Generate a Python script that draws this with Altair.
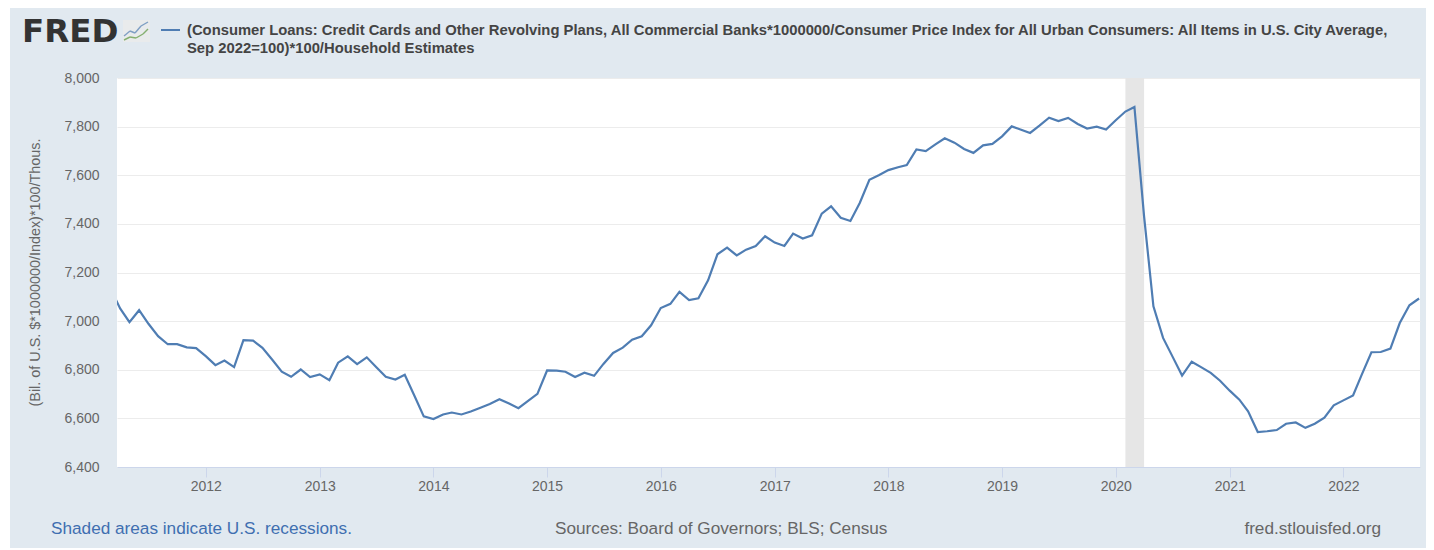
import altair as alt
import pandas as pd

start_month = "2011-03-01"
values = [
    7134, 7052, 6996, 7045, 6989, 6938, 6905, 6905, 6892, 6889,
    6856, 6819, 6838, 6811, 6922, 6920, 6890, 6842, 6792, 6771, 6801, 6770,
    6781, 6757, 6829, 6855, 6823, 6851, 6811, 6771, 6760, 6779, 6693, 6608,
    6597, 6616, 6624, 6616, 6628, 6644, 6659, 6679, 6661, 6642, 6672, 6701,
    6797, 6796, 6792, 6770, 6788, 6775, 6824, 6869, 6891, 6924, 6938, 6983,
    7054, 7071, 7120, 7087, 7094, 7168, 7275, 7302, 7270, 7294, 7309, 7349,
    7323, 7309, 7360, 7340, 7353, 7442, 7472, 7425, 7412, 7486, 7581, 7600,
    7621, 7633, 7642, 7706, 7699, 7727, 7752, 7734, 7708, 7692, 7723, 7729,
    7760, 7801, 7788, 7774, 7804, 7837, 7823, 7836, 7811, 7792, 7800, 7788,
    7826, 7862, 7881, 7431, 7061, 6931, 6855, 6776, 6833, 6811, 6787, 6755,
    6714, 6677, 6629, 6544, 6547, 6552, 6578, 6583, 6561, 6578, 6603, 6654,
    6674, 6694, 6780, 6872, 6873, 6887, 6992, 7065, 7093,
]
recession_start = ["2020-02-01"]
recession_end = ["2020-04-01"]
x_domain = ["2011-03-22", "2022-09-04"]
y_domain = [6400, 8000]
y_ticks = [6400, 6600, 6800, 7000, 7200, 7400, 7600, 7800, 8000]
title_lines = [
    "(Consumer Loans: Credit Cards and Other Revolving Plans, All Commercial Banks*1000000/Consumer Price Index for All Urban Consumers: All Items in U.S. City Average,",
    "Sep 2022=100)*100/Household Estimates",
]
y_title = "(Bil. of U.S. $*1000000/Index)*100/Thous."
footer_left = "Shaded areas indicate U.S. recessions."
footer_mid = "Sources: Board of Governors; BLS; Census"
footer_right = "fred.stlouisfed.org"

FONT = "Liberation Sans"
df = pd.DataFrame({"date": pd.date_range(start_month, periods=len(values), freq="MS"), "value": values})
rec = pd.DataFrame({"s": recession_start, "e": recession_end})

xs = alt.Scale(domain=x_domain)
ys = alt.Scale(domain=y_domain)
one = pd.DataFrame({"v": [0]})


def box(xa, ya, xb, yb, color):
    return alt.Chart(one).mark_rect(color=color).encode(
        x=alt.value(xa), x2=alt.value(xb), y=alt.value(ya), y2=alt.value(yb)
    )


band = alt.Chart(rec).mark_rect(color="#e6e6e6").encode(
    x=alt.X("s:T", scale=xs, title=None,
            axis=alt.Axis(format="%Y", tickCount=alt.TickCount(interval="year", step=1),
                          grid=False, tickSize=10, tickColor="#ccd6eb", domainColor="#ccd6eb",
                          labelColor="#666666", labelFontSize=14, labelFont=FONT, labelPadding=2,
                          labelFlush=False, labelOverlap=False)),
    x2="e:T",
)

line = alt.Chart(df).mark_line(color="#4f7db3", strokeWidth=2.2, clip=True).encode(
    x=alt.X("date:T", scale=xs),
    y=alt.Y("value:Q", scale=ys, title=y_title,
            axis=alt.Axis(values=y_ticks, format=",.0f", grid=True, gridColor="#ececec", gridWidth=1,
                          domain=False, ticks=False, labelColor="#666666", labelFontSize=14,
                          labelFont=FONT, labelPadding=18, titleFont=FONT, titleFontSize=14.4,
                          titleFontWeight="normal", titleColor="#666666", titleX=-75, titleY=194)),
)


def label(text, x, y, size, color, weight="normal", align="left", font=FONT):
    return alt.Chart(pd.DataFrame({"t": [text]})).mark_text(
        align=align, baseline="middle", fontSize=size, color=color, fontWeight=weight, font=font
    ).encode(x=alt.value(x), y=alt.value(y), text="t:N")


def stroke(xa, ya, xb, yb, color, width):
    return alt.Chart(one).mark_rule(color=color, strokeWidth=width).encode(
        x=alt.value(xa), x2=alt.value(xb), y=alt.value(ya), y2=alt.value(yb)
    )


def polyline(points, color, width):
    return [stroke(a[0], a[1], b[0], b[1], color, width) for a, b in zip(points, points[1:])]


# coordinates below are relative to the plot area (left=117, top=78 on the page)
deco = [
    box(-109, -70, -107, 470, "white"),
    label("FRED", -95, -46, 32.5, "#333333", "bold", font="DejaVu Sans"),
    box(6, -58, 33, -36, "#e9ebec"),
    *polyline([(7, -42), (13, -47), (18, -45), (24, -52), (31, -56)], "#7f9fc4", 1.4),
    *polyline([(7, -38), (13, -41), (19, -40), (26, -44), (31, -49)], "#86b070", 1.4),
    stroke(44, -48, 63, -48, "#4f7db3", 2),
    label(title_lines[0], 70, -47, 14.8, "#444444", "bold"),
    label(title_lines[1], 70, -29, 14.8, "#444444", "bold"),
    label(footer_left, -66, 451, 17.2, "#3f6fb0"),
    label(footer_mid, 438, 451, 17.2, "#666666"),
    label(footer_right, 1264, 451, 17.2, "#666666", align="right"),
]

chart = alt.layer(band, line, *deco).resolve_scale(x="shared", y="shared").properties(
    width=1303, height=389,
    background="#e1e9f0",
    padding={"left": 109, "top": 70, "right": 6, "bottom": 81},
    autosize=alt.AutoSizeParams(type="none"),
).configure_view(stroke=None, fill="white")

chart.save("out.html", embed_options={"renderer": "svg", "actions": False})
